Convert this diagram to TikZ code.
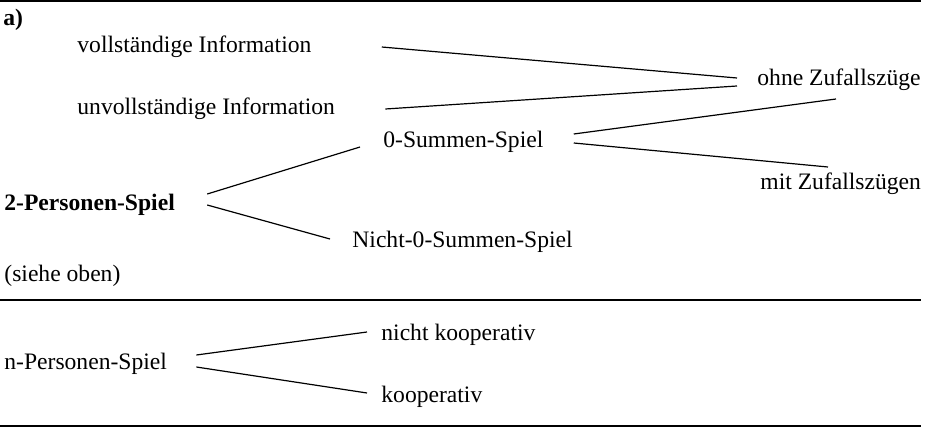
\documentclass[tikz,border=0pt]{standalone}
\usepackage{fontspec}
\setmainfont{Liberation Serif}
\usetikzlibrary{calc}
\tikzset{txt/.style={anchor=west,inner sep=0pt,font=\fontsize{11.8}{14}\selectfont}}
\tikzset{rule/.style={line width=0.8pt}}
\tikzset{ed/.style={line width=0.6pt}}

\begin{document}
\begin{tikzpicture}[x=0.5pt,y=-0.5pt]
\useasboundingbox (0,0) rectangle (932,428);

\draw[rule] (0,1) -- (921,1);
\draw[rule] (0,300) -- (921,300);
\draw[rule] (0,426) -- (921,426);

\node[txt,font=\fontsize{11.8}{14}\selectfont\bfseries] (a) at (3,20) {a)};

\node[txt] (voll) at (77,47) {vollständige Information};
\node[txt] (unvoll) at (77,109) {unvollständige Information};
\node[txt] (ohne) at (757,80) {ohne Zufallszüge};
\node[txt] (null) at (383,142) {0-Summen-Spiel};
\node[txt] (mit) at (760,184) {mit Zufallszügen};
\node[txt,font=\fontsize{11.8}{14}\selectfont\bfseries] (zwei) at (4,205) {2-Personen-Spiel};
\node[txt] (nicht) at (352,242) {Nicht-0-Summen-Spiel};
\node[txt] (siehe) at (4,276) {(siehe oben)};

\node[txt] (npers) at (4,364) {n-Personen-Spiel};
\node[txt] (nkoop) at (381,335) {nicht kooperativ};
\node[txt] (koop) at (381,397) {kooperativ};

\draw[ed] ($(voll.east)+(70,0)$) -- ($(ohne.west)+(-20,-2)$);
\draw[ed] ($(unvoll.east)+(50,0)$) -- ($(ohne.west)+(-20,6)$);
\draw[ed] ($(null.east)+(30,-8)$) -- ($(ohne.west)+(79,19)$);
\draw[ed] ($(null.east)+(30,1)$) -- ($(mit.west)+(68,-17)$);

\draw[ed] ($(zwei.east)+(32,-11)$) -- ($(null.west)+(-23,5)$);
\draw[ed] ($(zwei.east)+(32,0)$) -- ($(nicht.west)+(-22,-3)$);

\draw[ed] ($(npers.east)+(29,-9)$) -- ($(nkoop.west)+(-14,-3)$);
\draw[ed] ($(npers.east)+(29,3)$) -- ($(koop.west)+(-14,-4)$);

\end{tikzpicture}
\end{document}
